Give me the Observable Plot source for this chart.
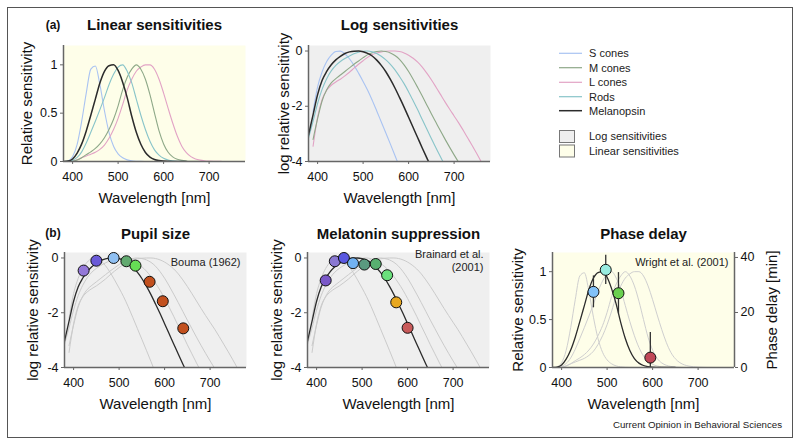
<!DOCTYPE html>
<html><head><meta charset="utf-8">
<script src="https://cdn.jsdelivr.net/npm/d3@7"></script>
<script src="https://cdn.jsdelivr.net/npm/@observablehq/plot@0.6"></script>
<style>
body{margin:0;background:#fff;font-family:"Liberation Sans",Arial,Helvetica,sans-serif;}
#fig{position:relative;width:800px;height:445px;overflow:hidden;background:#fff;}
.abs{position:absolute;}
#border{position:absolute;left:7px;top:7px;width:784px;height:429px;border:1.3px solid #555;}
#caption{position:absolute;right:18px;top:419px;font-size:9.7px;color:#222;white-space:nowrap;}
</style></head>
<body><div id="fig"><div id="border"></div><div id="caption">Current Opinion in Behavioral Sciences</div></div>
<script>
// ---------- data ----------
const wavelengths = [380,390,400,410,420,430,440,450,460,470,480,490,500,510,520,530,540,550,560,570,580,590,600,610,620,630,640,650,660,670,680,690,700,710,720,730,740,750,760];
// log10 relative sensitivities
const sConesLog = [null,-2.2,-1.3,-0.75,-0.38,-0.15,-0.02,-0.005,-0.1,-0.28,-0.52,-0.8,-1.1,-1.42,-1.78,-2.17,-2.57,-2.97,-3.37,-3.78,-4.2,null,null,null,null,null,null,null,null,null,null,null,null,null,null,null,null,null,null];
const mConesLog = [null,-3.2,-2.45,-1.8,-1.4,-1.15,-1.0,-0.87,-0.74,-0.61,-0.48,-0.36,-0.24,-0.13,-0.06,-0.02,0,-0.02,-0.07,-0.16,-0.3,-0.5,-0.74,-1.02,-1.32,-1.63,-1.95,-2.27,-2.58,-2.89,-3.19,-3.48,-3.76,-4.03,-4.3,null,null,null,null];
const lConesLog = [null,-3.45,-2.4,-1.75,-1.42,-1.24,-1.12,-1.02,-0.9,-0.77,-0.62,-0.48,-0.35,-0.23,-0.13,-0.07,-0.03,-0.01,0,0,-0.02,-0.07,-0.15,-0.26,-0.4,-0.58,-0.8,-1.04,-1.3,-1.57,-1.84,-2.1,-2.35,-2.6,-2.87,-3.15,-3.43,-3.72,-4.02];
const rodsLog = [-3.15,-2.55,-1.9,-1.38,-1.0,-0.72,-0.52,-0.38,-0.27,-0.18,-0.1,-0.045,-0.01,0,-0.03,-0.09,-0.19,-0.32,-0.48,-0.68,-0.92,-1.18,-1.48,-1.8,-2.13,-2.48,-2.82,-3.17,-3.5,-3.83,-4.15,null,null,null,null,null,null,null,null];
const melanopsinLog = [-3.04,-2.31,-1.58,-1.06,-0.74,-0.5,-0.32,-0.19,-0.09,-0.03,-0.004,0,-0.026,-0.086,-0.18,-0.33,-0.52,-0.75,-1.03,-1.34,-1.68,-2.03,-2.4,-2.77,-3.14,-3.51,-3.87,-4.22,null,null,null,null,null,null,null,null,null,null,null];
const seriesNames = ["S cones","M cones","L cones","Rods","Melanopsin"];
const seriesColors = ["#a9c3f2","#8ea888","#e2a3c5","#88c4c9","#2b2b2b"];

// Bouma (1962) pupil size
const pupilWl = [422,450,488,516,536,567,596,641];
const pupilLog = [-0.46,-0.1,0.0,-0.12,-0.28,-0.87,-1.58,-2.57];
const pupilColors = ["#9478d8","#6a5ad8","#90c0f2","#62aa70","#66dc55","#c2501e","#c2501e","#c2501e"];

// Brainard et al. (2001) melatonin suppression
const melatoninWl = [420,440,460,480,505,530,555,575,600];
const melatoninLog = [-0.82,-0.12,0.0,-0.19,-0.24,-0.22,-0.63,-1.62,-2.55];
const melatoninColors = ["#7a58c8","#8a78d2","#5a58e0","#72b2f2","#5a9a80","#58b070","#6ae07c","#e8a820","#c85a5a"];

// Wright et al. (2001) phase delay [min]
const phaseWl = [470,497,525,595];
const phaseDelay = [27.5,35.5,27.0,3.6];
const phaseErr = [5.8,5.3,7.5,9.1];
const phaseColors = ["#82c2f8","#98ece0","#6ad050","#c04858"];
const minPerUnit = 34.84; // right axis minutes per unit of relative sensitivity

// ---------- helpers ----------
const logRows = [sConesLog,mConesLog,lConesLog,rodsLog,melanopsinLog].map(arr =>
  wavelengths.map((w,j)=>({wl:w, log:arr[j], lin: arr[j]==null?null:Math.pow(10,arr[j])})).filter(d=>d.log!=null));

const FONT = "Liberation Sans, Arial, Helvetica, sans-serif";
const AX = "#666";
const W = 182;
const fig = document.getElementById("fig");

function panel(o){
  const ml=62, mt=40, mb=48, mr=o.mr||14;
  const marks = [
    Plot.frame({fill:o.bg, stroke:null}),
    ...o.marks,
    Plot.ruleX([380],{stroke:AX, strokeWidth:1.5}),
    Plot.ruleY([o.yDomain[0]],{stroke:AX, strokeWidth:1.5}),
    Plot.axisX({ticks:[400,500,600,700], tickSize:3, tickPadding:8, fontSize:12.5, label:null, stroke:AX, fill:"#111"}),
    Plot.axisY({ticks:o.yTicks, tickFormat:o.yFormat, tickSize:3, tickPadding:3, fontSize:12.5, label:null, stroke:AX, fill:"#111"}),
    Plot.text([o.title],{frameAnchor:"top", dy:o.titleDy, fontWeight:"bold", fontSize:15, lineAnchor:"middle", fill:"#111"}),
    Plot.text(["Wavelength [nm]"],{frameAnchor:"bottom", dy:37, fontSize:15, lineAnchor:"middle", fill:"#111"}),
    Plot.text([o.yLabel],{frameAnchor:"left", dx:-o.yLabelOff, rotate:-90, fontSize:15, textAnchor:"middle", lineAnchor:"middle", fill:"#111"}),
    ...(o.extra||[])
  ];
  const p = Plot.plot({
    width: ml+W+mr, height: mt+o.frameH+mb,
    marginLeft: ml, marginRight: mr, marginTop: mt, marginBottom: mb,
    style:{background:"transparent", fontFamily:FONT, overflow:"visible", maxWidth:"none"},
    x:{domain:[380,780]},
    y:{domain:o.yDomain},
    marks
  });
  const d = document.createElement("div");
  d.className="abs";
  d.style.left=(o.left-ml)+"px"; d.style.top=(o.top-mt)+"px";
  d.appendChild(p);
  fig.appendChild(d);
}

const logTicks = [-4,-2,0];
const linTicks = [0,0.5,1];
const linFmt = d => d===0.5?"0.5":String(d);
const grayOrder = [0,1,2,3];

// (a) Linear sensitivities
panel({left:63, top:45, frameH:116, bg:"#fefee9", yDomain:[0,1.2], yTicks:linTicks, yFormat:linFmt,
  title:"Linear sensitivities", titleDy:-20, yLabel:"Relative sensitivity", yLabelOff:36,
  marks:[0,2,1,3,4].map(i=>Plot.line(logRows[i],{x:"wl", y:"lin", stroke:seriesColors[i], strokeWidth:i===4?1.5:1.1, curve:"monotone-x", clip:true})),
  extra:[Plot.text(["(a)"],{frameAnchor:"top-left", dx:-10.5, dy:-20, fontWeight:"bold", fontSize:12, textAnchor:"middle", lineAnchor:"middle", fill:"#111"})]
});

// Log sensitivities
panel({left:308, top:45, frameH:116, bg:"#efefef", yDomain:[-4,0.2], yTicks:logTicks, yFormat:d=>String(d),
  title:"Log sensitivities", titleDy:-20, yLabel:"log relative sensitivity", yLabelOff:24,
  marks:[0,2,1,3,4].map(i=>Plot.line(logRows[i],{x:"wl", y:"log", stroke:seriesColors[i], strokeWidth:i===4?1.5:1.1, curve:"monotone-x", clip:true}))
});

// (b) Pupil size
panel({left:64, top:252, frameH:115, bg:"#efefef", yDomain:[-4,0.2], yTicks:logTicks, yFormat:d=>String(d),
  title:"Pupil size", titleDy:-18, yLabel:"log relative sensitivity", yLabelOff:31,
  marks:[
    ...grayOrder.map(i=>Plot.line(logRows[i],{x:"wl", y:"log", stroke:"#cbcbcb", strokeWidth:1, curve:"monotone-x", clip:true})),
    Plot.line(logRows[4],{x:"wl", y:"log", stroke:"#2b2b2b", strokeWidth:1.3, curve:"monotone-x", clip:true}),
    Plot.dot(pupilWl.map((w,i)=>({wl:w, v:pupilLog[i], c:pupilColors[i]})),{x:"wl", y:"v", fill:d=>d.c, r:5.5, stroke:"#111", strokeWidth:1})
  ],
  extra:[
    Plot.text(["(b)"],{frameAnchor:"top-left", dx:-11.5, dy:-19, fontWeight:"bold", fontSize:12, textAnchor:"middle", lineAnchor:"middle", fill:"#111"}),
    Plot.text(["Bouma (1962)"],{frameAnchor:"top-right", dx:-6, dy:10, fontSize:11, textAnchor:"end", lineAnchor:"middle", fill:"#222"})
  ]
});

// Melatonin suppression
panel({left:307, top:252, frameH:115, bg:"#efefef", yDomain:[-4,0.2], yTicks:logTicks, yFormat:d=>String(d),
  title:"Melatonin suppression", titleDy:-18, yLabel:"log relative sensitivity", yLabelOff:30,
  marks:[
    ...grayOrder.map(i=>Plot.line(logRows[i],{x:"wl", y:"log", stroke:"#cbcbcb", strokeWidth:1, curve:"monotone-x", clip:true})),
    Plot.line(logRows[4],{x:"wl", y:"log", stroke:"#2b2b2b", strokeWidth:1.3, curve:"monotone-x", clip:true}),
    Plot.dot(melatoninWl.map((w,i)=>({wl:w, v:melatoninLog[i], c:melatoninColors[i]})),{x:"wl", y:"v", fill:d=>d.c, r:5.5, stroke:"#111", strokeWidth:1})
  ],
  extra:[
    Plot.text(["Brainard et al.\n(2001)"],{frameAnchor:"top-right", dx:-6, dy:8, fontSize:11, textAnchor:"end", lineAnchor:"middle", lineHeight:1.2, fill:"#222"})
  ]
});

// Phase delay
const phaseRows = phaseWl.map((w,i)=>({wl:w, v:phaseDelay[i]/minPerUnit, lo:Math.max(0,phaseDelay[i]-phaseErr[i])/minPerUnit, hi:(phaseDelay[i]+phaseErr[i])/minPerUnit, c:phaseColors[i]}));
panel({left:552, top:252, frameH:115, mr:50, bg:"#fefee9", yDomain:[0,1.2], yTicks:linTicks, yFormat:linFmt,
  title:"Phase delay", titleDy:-18, yLabel:"Relative sensitivity", yLabelOff:34,
  marks:[
    ...grayOrder.map(i=>Plot.line(logRows[i],{x:"wl", y:"lin", stroke:"#cfcfcf", strokeWidth:1, curve:"monotone-x", clip:true})),
    Plot.line(logRows[4],{x:"wl", y:"lin", stroke:"#2b2b2b", strokeWidth:1.3, curve:"monotone-x", clip:true}),
    Plot.ruleX(phaseRows,{x:"wl", y1:"lo", y2:"hi", stroke:"#333", strokeWidth:1.3}),
    Plot.dot(phaseRows,{x:"wl", y:"v", fill:d=>d.c, r:5.5, stroke:"#111", strokeWidth:1})
  ],
  extra:[
    Plot.ruleX([780],{stroke:AX, strokeWidth:1.5}),
    Plot.axisY({anchor:"right", ticks:[0,20,40].map(m=>m/minPerUnit), tickFormat:d=>String(Math.round(d*minPerUnit)), tickSize:3, tickPadding:3, fontSize:12.5, label:null, stroke:AX, fill:"#111"}),
    Plot.text(["Phase delay [min]"],{frameAnchor:"right", dx:38, rotate:-90, fontSize:15, textAnchor:"middle", lineAnchor:"middle", fill:"#111"}),
    Plot.text(["Wright et al. (2001)"],{frameAnchor:"top-right", dx:-6, dy:10, fontSize:11, textAnchor:"end", lineAnchor:"middle", fill:"#222"})
  ]
});

// ---------- legend ----------
const leg = d3.select(fig).append("svg").attr("class","abs")
  .style("left","550px").style("top","40px").attr("width",200).attr("height",125)
  .style("font-family",FONT);
const rowY = [13.3,27.7,42.3,56.7,70.7];
seriesNames.forEach((n,i)=>{
  leg.append("line").attr("x1",9).attr("x2",32).attr("y1",rowY[i]).attr("y2",rowY[i])
    .attr("stroke",seriesColors[i]).attr("stroke-width",i===4?1.5:1.2);
  leg.append("text").attr("x",39).attr("y",rowY[i]).attr("dy","0.35em").attr("font-size",11).attr("fill","#222").text(n);
});
[["Log sensitivities","#efefef",96.5],["Linear sensitivities","#fefee9",111]].forEach(([n,c,y])=>{
  leg.append("rect").attr("x",9.5).attr("y",y-6).attr("width",15).attr("height",12).attr("fill",c).attr("stroke","#777").attr("stroke-width",1);
  leg.append("text").attr("x",39).attr("y",y).attr("dy","0.35em").attr("font-size",11).attr("fill","#222").text(n);
});
</script>
</body></html>
